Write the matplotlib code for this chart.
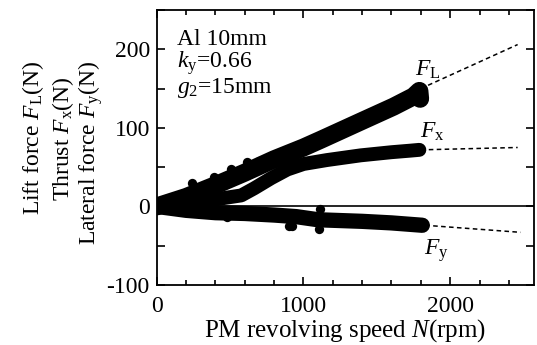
import matplotlib
matplotlib.use('Agg')
import matplotlib.pyplot as plt
from matplotlib.ticker import MultipleLocator

plt.rc('font', family='Liberation Serif', size=17)
plt.rc('mathtext', fontset='custom', rm='Liberation Serif', it='Liberation Serif:italic')
plt.rc('axes', unicode_minus=False)

# Measured forces (N) against PM revolving speed (rpm)
speed_lift = [0, 200, 400, 600, 800, 1000, 1120, 1390, 1614, 1750, 1790, 1795]
force_lift = [0, 12, 27, 43, 60, 75, 85, 108, 127, 140, 147, 137]

speed_thrust = [0, 200, 400, 576, 664, 780, 890, 1000, 1160, 1390, 1600, 1730, 1790]
force_thrust = [0, 4, 9, 14, 23, 36, 47, 54, 59, 65, 69, 71, 72]

speed_lateral = [0, 200, 400, 600, 800, 950, 1100, 1250, 1400, 1600, 1810]
force_lateral = [0, -5, -8, -9, -11, -13, -17, -18, -19, -21, -24]

# stray readings sticking out of the bands
stray_speed = [237, 393, 508, 617, 698, 481, 900, 922, 1105, 1110]
stray_force = [30, 37, 47, 56, 58, -14, -25, -25, -29, -3]

# extrapolated trends beyond the measured range
ext_speed = [1800, 2460]
ext_lift = [150, 206]
ext_thrust = [72, 75]
ext_lateral_speed = [1830, 2480]
ext_lateral = [-24, -33]

fig = plt.figure(figsize=(5.37, 3.45), dpi=100)
ax = fig.add_axes([0.292, 0.174, 0.702, 0.797])

ax.axhline(0, color='black', lw=1.2)

band = dict(color='black', solid_capstyle='round', solid_joinstyle='round')
ax.plot(speed_lift, force_lift, lw=13, **band)
ax.plot(speed_thrust, force_thrust, lw=10, **band)
ax.plot(speed_lateral, force_lateral, lw=11, **band)
ax.scatter(stray_speed, stray_force, s=45, color='black', lw=0)

dash = dict(color='black', lw=1.1, linestyle=(0, (3, 2.2)))
ax.plot(ext_speed, ext_lift, **dash)
ax.plot(ext_speed, ext_thrust, **dash)
ax.plot(ext_lateral_speed, ext_lateral, **dash)

ax.text(1850, 174, r'$F_{\mathrm{L}}$', ha='center', va='center')
ax.text(1880, 95, r'$F_{\mathrm{x}}$', ha='center', va='center')
ax.text(1905, -56, r'$F_{\mathrm{y}}$', ha='center', va='center')

# test conditions
ax.text(0.053, 0.93, 'Al 10mm\n' + r'$k_{\mathrm{y}}$=0.66' + '\n' + r'$g_2$=15mm',
        transform=ax.transAxes, va='top', fontsize=17, linespacing=0.93)

ax.set_xlim(0, 2570)
ax.set_ylim(-100, 250)
ax.xaxis.set_major_locator(MultipleLocator(1000))
ax.xaxis.set_minor_locator(MultipleLocator(200))
ax.yaxis.set_major_locator(MultipleLocator(100))
ax.yaxis.set_minor_locator(MultipleLocator(50))
ax.set_yticks([-100, 0, 100, 200])

ax.tick_params(which='both', direction='in', top=True, right=True, width=1.2)
ax.tick_params(axis='x', which='major', length=6, pad=8)
ax.tick_params(axis='x', which='minor', length=3.5)
ax.tick_params(axis='y', which='both', length=6, pad=5)
for s in ax.spines.values():
    s.set_linewidth(1.3)

ax.set_xlabel(r'PM revolving speed $N$(rpm)', fontsize=18, labelpad=0)

fig.text(0.061, 0.60, r'Lift force $F_{\mathrm{L}}$(N)', rotation=90, ha='center', va='center')
fig.text(0.117, 0.597, r'Thrust $F_{\mathrm{x}}$(N)', rotation=90, ha='center', va='center')
fig.text(0.168, 0.557, r'Lateral force $F_{\mathrm{y}}$(N)', rotation=90, ha='center', va='center')

fig.savefig('out.png', dpi=100)
